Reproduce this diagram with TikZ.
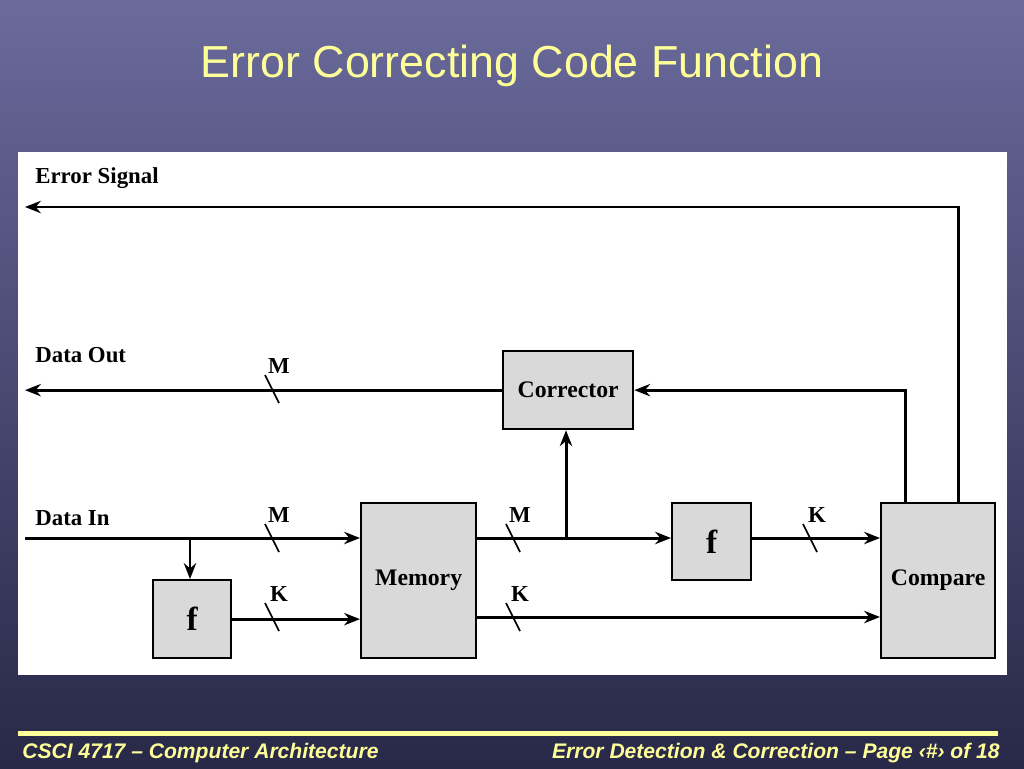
\documentclass[tikz,border=0pt]{standalone}
\usepackage{fontspec}
\setmainfont{Liberation Serif}
\newfontfamily\arialf{Liberation Sans}
\usetikzlibrary{arrows.meta}
\definecolor{ttl}{HTML}{FFFF99}
\definecolor{boxg}{HTML}{D9D9D9}
\begin{document}
\begin{tikzpicture}[x=0.02cm,y=-0.02cm,
  blk/.style={draw,line width=1.3pt,fill=boxg,inner sep=0pt,anchor=north west},
  wire/.style={line width=1.7pt},
  arr/.style={wire,-{Stealth[length=9pt,width=7pt]}},
  lbl/.style={font=\bfseries\fontsize{13}{15}\selectfont,anchor=west,inner sep=0pt},
  sl/.style={line width=1pt},
  lab/.style={font=\bfseries\fontsize{13}{15}\selectfont,inner sep=0pt},
  btxt/.style={font=\bfseries\fontsize{13.5}{15}\selectfont}]
\useasboundingbox (0,0) rectangle (1024,768);
\shade[top color={rgb,255:red,106;green,106;blue,156},bottom color={rgb,255:red,40;green,40;blue,72}] (0,0) rectangle (1024,768);
\node[text=ttl,font=\arialf\fontsize{25.5}{28}\selectfont] (title) at (512,66) {Error Correcting Code Function};
\fill[white] (18,152) rectangle (1007,675);
\fill[ttl] (18,731) rectangle (998,736);
\node[text=ttl,font=\arialf\bfseries\itshape\fontsize{12}{13}\selectfont,anchor=west,inner sep=0pt] (fl) at (22,753) {CSCI 4717 – Computer Architecture};
\node[text=ttl,font=\arialf\bfseries\itshape\fontsize{12}{13}\selectfont,anchor=east,inner sep=0pt] (fr) at (1000,753) {Error Detection \& Correction – Page ‹\#› of 18};
% boxes
\node[blk,minimum width=130*0.02cm,minimum height=78*0.02cm] (cor) at (502,350) {};
\node[btxt] at (cor.center) {Corrector};
\node[blk,minimum width=78*0.02cm,minimum height=78*0.02cm] (f1) at (152,579) {};
\node[font=\bfseries\fontsize{19}{20}\selectfont] at (f1.center) {f};
\node[blk,minimum width=115*0.02cm,minimum height=155*0.02cm] (mem) at (360,502) {};
\node[btxt] at (mem.center) {Memory};
\node[blk,minimum width=79*0.02cm,minimum height=77*0.02cm] (f2) at (671,502) {};
\node[font=\bfseries\fontsize{19}{20}\selectfont] at (f2.center) {f};
\node[blk,minimum width=114*0.02cm,minimum height=155*0.02cm] (cmp) at (880,502) {};
\node[btxt] at (cmp.center) {Compare};
% labels
\node[lbl] (es) at (35,178) {Error Signal};
\node[lbl] (do) at (35,355) {Data Out};
\node[lbl] (di) at (35,518) {Data In};
\coordinate (esend) at (25,207);
\coordinate (doend) at (25,389);
\coordinate (distart) at (25,538);
\coordinate (br1) at (190,538);
\coordinate (br2) at (566,538);
% wires
\draw[arr] (cmp.north -| 958,0) |- (esend);
\draw[arr] (cmp.north -| 905,0) |- (cor.east);
\draw[arr] (cor.west) -- (cor.west -| doend);
\draw[arr] (distart) -- (mem.west |- distart);
\draw[arr] (br1) -- (f1.north -| br1);
\draw[arr] (f1.east) -- (mem.west |- f1.east);
\draw[arr] (mem.east |- br2) -- (f2.west |- br2);
\draw[arr] (br2) -- (cor.south -| br2);
\draw[arr] (f2.east |- br2) -- (cmp.west |- br2);
\draw[arr] (mem.east |- 0,617) -- (cmp.west |- 0,617);
% slashes
\foreach \x/\y/\t in {272/389/M,272/538/M,272/617/K,513/538/M,513/617/K,810/538/K}{
  \draw[sl] (\x-7,\y-14) -- (\x+7,\y+14);
  \node[lab] at (\x+7,\y-23) {\t};
}
\end{tikzpicture}
\end{document}
